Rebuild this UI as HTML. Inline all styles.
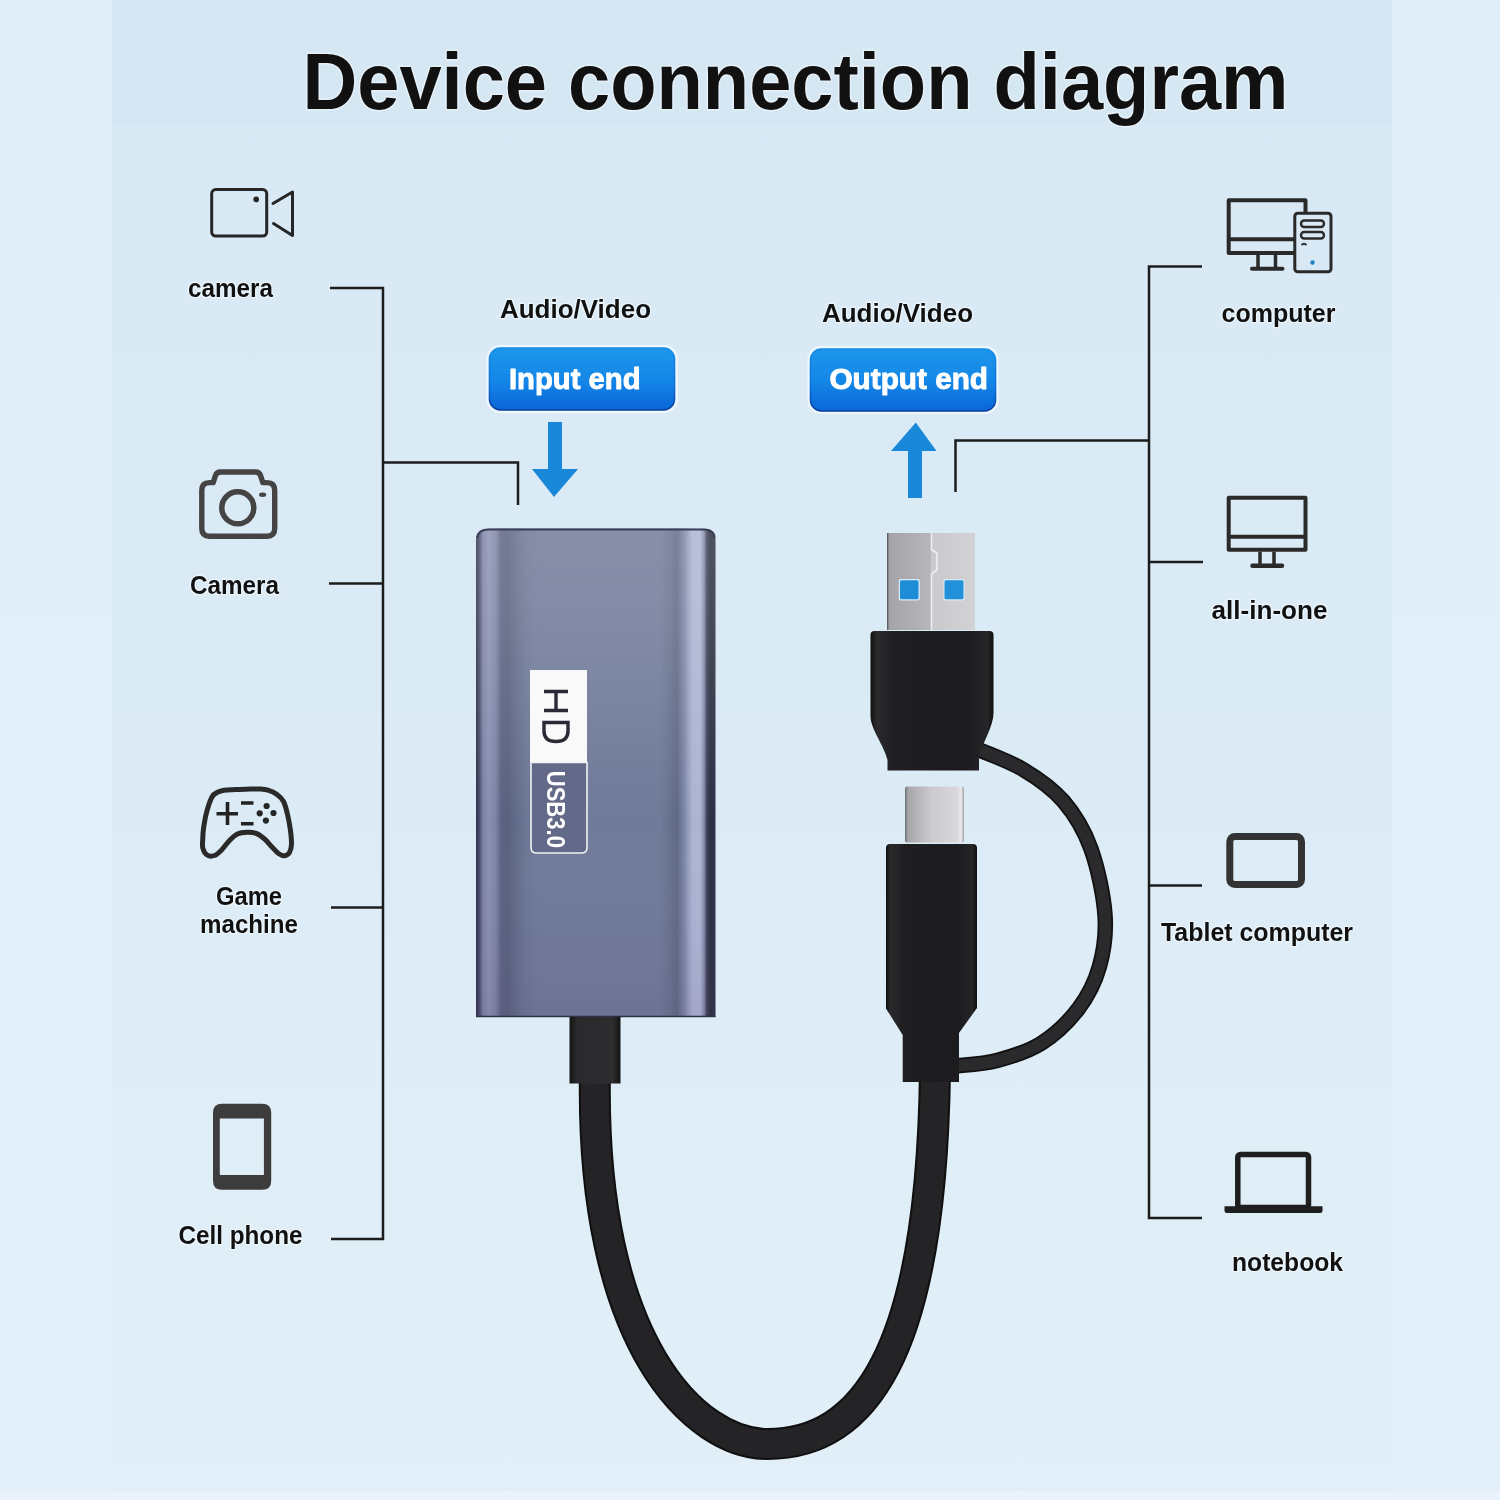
<!DOCTYPE html>
<html><head><meta charset="utf-8">
<style>
html,body{margin:0;padding:0;}
body{width:1500px;height:1500px;overflow:hidden;background:#d8e9f5;font-family:"Liberation Sans",sans-serif;}
svg{position:absolute;left:0;top:0;display:block;will-change:transform;}
</style></head>
<body>
<svg width="1500" height="1500" viewBox="0 0 1500 1500">
<defs>
  <linearGradient id="btn" x1="0" y1="0" x2="0" y2="1">
    <stop offset="0" stop-color="#1c95ea"/>
    <stop offset="0.5" stop-color="#1488e8"/>
    <stop offset="1" stop-color="#0b66d8"/>
  </linearGradient>
  <linearGradient id="btnS" x1="0" y1="0" x2="0" y2="1">
    <stop offset="0" stop-color="#1a8ee6"/>
    <stop offset="0.6" stop-color="#1070d8"/>
    <stop offset="1" stop-color="#0a3f9e"/>
  </linearGradient>
  <linearGradient id="body" x1="0" y1="0" x2="1" y2="0">
    <stop offset="0" stop-color="#4f5572"/>
    <stop offset="0.08" stop-color="#6a7193"/>
    <stop offset="0.2" stop-color="#7d84a7"/>
    <stop offset="0.8" stop-color="#7c83a5"/>
    <stop offset="0.93" stop-color="#666d8e"/>
    <stop offset="1" stop-color="#4c5270"/>
  </linearGradient>
  <linearGradient id="usba" x1="0" y1="0" x2="1" y2="0">
    <stop offset="0" stop-color="#9c9ca2"/>
    <stop offset="0.5" stop-color="#b4b4b9"/>
    <stop offset="0.51" stop-color="#c6c6ca"/>
    <stop offset="1" stop-color="#bdbdc2"/>
  </linearGradient>
  <linearGradient id="usbc" x1="0" y1="0" x2="1" y2="0">
    <stop offset="0" stop-color="#6c6c70"/>
    <stop offset="0.05" stop-color="#a6a6aa"/>
    <stop offset="0.45" stop-color="#cbcbce"/>
    <stop offset="0.88" stop-color="#d8d8db"/>
    <stop offset="0.95" stop-color="#ececee"/>
    <stop offset="1" stop-color="#a0a0a4"/>
  </linearGradient>
</defs>
<!-- background panels -->
<linearGradient id="bgc" gradientUnits="userSpaceOnUse" x1="0" y1="125" x2="0" y2="1500">
  <stop offset="0" stop-color="#d8e9f5"/>
  <stop offset="0.42" stop-color="#dbebf6"/>
  <stop offset="0.85" stop-color="#e0eef7"/>
  <stop offset="1" stop-color="#e2eff8"/>
</linearGradient>
<linearGradient id="bgs" x1="0" y1="0" x2="0" y2="1">
  <stop offset="0" stop-color="#dfeef8"/>
  <stop offset="1" stop-color="#e3f0f9"/>
</linearGradient>
<rect x="0" y="0" width="1500" height="1500" fill="url(#bgs)"/>
<rect x="112" y="125" width="1280" height="1375" fill="url(#bgc)"/>
<rect x="112" y="0" width="1280" height="125" fill="#d5e7f3"/>
<rect x="0" y="1491" width="1500" height="9" fill="#eaf2fb"/>

<!-- title -->
<text x="302.5" y="109" font-family="Liberation Sans" font-weight="bold" font-size="79" fill="#111" stroke="#f2f9fd" stroke-opacity="0.6" stroke-width="3" paint-order="stroke" stroke-linejoin="round" textLength="986" lengthAdjust="spacingAndGlyphs">Device connection diagram</text>

<!-- connector lines -->
<g stroke="#1c1c1c" stroke-width="2.5" fill="none">
  <polyline points="330,288 383,288 383,1239 331,1239"/>
  <line x1="329" y1="583.5" x2="383" y2="583.5"/>
  <line x1="331" y1="907.5" x2="383" y2="907.5"/>
  <polyline points="383,462.5 518,462.5 518,505"/>
  <polyline points="1202,266.5 1149,266.5 1149,1218 1202,1218"/>
  <polyline points="955.5,492 955.5,440.5 1149,440.5"/>
  <line x1="1149" y1="562" x2="1203" y2="562"/>
  <line x1="1149" y1="885.5" x2="1202" y2="885.5"/>
</g>


<!-- LEFT ICONS -->
<g fill="none" stroke="#262626" stroke-linecap="round" stroke-linejoin="round">
  <!-- video camera -->
  <rect x="211.7" y="189.6" width="55" height="46.4" rx="4" stroke-width="3"/>
  <path d="M273,203.5 L292.5,192 L292.5,235.5 L273.5,223.5" stroke-width="3"/>
  <!-- photo camera -->
  <path d="M213.2,482.6 L215.3,476 Q216.5,472 220.5,472 L255.5,472 Q259.5,472 260.7,476 L262.8,482.6 L267,482.6 Q274.7,482.6 274.7,490.3 L274.7,528.6 Q274.7,536.3 267,536.3 L209.5,536.3 Q201.8,536.3 201.8,528.6 L201.8,490.3 Q201.8,482.6 209.5,482.6 Z" stroke="#444" stroke-width="5.4"/>
  <circle cx="237.8" cy="507.8" r="16" stroke="#444" stroke-width="5.5"/>
  <!-- gamepad -->
  <path d="M212.0,797.0 C213.9,793.5 215.5,793.4 217.5,792.3 C219.5,791.2 220.9,790.7 224.0,790.2 C227.1,789.8 231.7,789.8 236.0,789.6 C240.3,789.4 246.0,789.1 250.0,789.0 C254.0,788.9 257.0,788.8 260.0,789.0 C263.0,789.2 265.2,789.3 268.0,790.2 C270.8,791.1 274.4,792.6 277.0,794.5 C279.6,796.4 281.8,798.3 283.5,801.5 C285.2,804.7 286.2,809.0 287.3,813.5 C288.4,818.0 289.5,823.6 290.2,828.7 C290.9,833.8 291.6,840.0 291.5,844.0 C291.4,848.0 290.7,850.5 289.5,852.5 C288.3,854.5 286.3,855.6 284.5,855.8 C282.7,856.0 280.7,855.0 278.5,853.5 C276.3,852.0 273.9,849.0 271.5,846.5 C269.1,844.0 266.7,840.7 264.0,838.5 C261.3,836.3 258.4,834.2 255.5,833.2 C252.6,832.2 249.7,832.2 246.7,832.3 C243.7,832.4 240.4,832.6 237.5,834.0 C234.6,835.4 232.1,837.9 229.5,840.5 C226.9,843.1 224.5,847.0 222.0,849.5 C219.5,852.0 217.0,854.6 214.5,855.5 C212.0,856.4 208.9,856.2 207.0,855.0 C205.1,853.8 203.5,850.8 202.8,848.0 C202.1,845.2 202.7,841.2 202.8,838.0 C202.9,834.8 202.9,832.8 203.5,828.7 C204.1,824.6 204.9,818.6 206.3,813.3 C207.7,808.0 210.1,800.5 212.0,797.0 Z" stroke="#2a2a2a" stroke-width="5"/>
  <path d="M216.5,813.7 H238 M227.5,802 V825 M241,803 H253.5 M241,823.7 H253.5" stroke="#222" stroke-width="3.6" stroke-linecap="butt"/>
</g>
<g fill="#262626">
  <circle cx="256.2" cy="199.4" r="2.8"/>
  <ellipse cx="262.6" cy="494.8" rx="3.6" ry="2.2" fill="#444"/>
  <circle cx="266.6" cy="806" r="3.1"/>
  <circle cx="259.7" cy="813.3" r="3.1"/>
  <circle cx="273.5" cy="813" r="3.1"/>
  <circle cx="265.9" cy="820.6" r="3.1"/>
  <!-- phone -->
  <path fill-rule="evenodd" fill="#3c3c3c" d="M222,1103.8 H262.2 Q271.2,1103.8 271.2,1112.8 V1180.7 Q271.2,1189.7 262.2,1189.7 H222 Q213,1189.7 213,1180.7 V1112.8 Q213,1103.8 222,1103.8 Z M219.8,1118.4 V1175.1 H263.9 V1118.4 Z"/>
</g>

<!-- RIGHT ICONS -->
<g fill="none" stroke="#2a2a2a" stroke-linejoin="round">
  <!-- computer -->
  <rect x="1228.7" y="200.3" width="76.8" height="52.7" stroke-width="4"/>
  <line x1="1228.7" y1="239.2" x2="1300" y2="239.2" stroke-width="4"/>
  <path d="M1258,255 V267 M1275.5,255 V267" stroke-width="3.5"/>
  <line x1="1252" y1="268.8" x2="1282.5" y2="268.8" stroke-width="4" stroke-linecap="round"/>
  <rect x="1294.8" y="213.2" width="36.2" height="58.6" rx="3" stroke-width="3" fill="#d8e9f5"/>
  <rect x="1301" y="220.5" width="23" height="6.5" rx="3.2" stroke-width="2.4"/>
  <rect x="1301" y="232" width="23" height="6.5" rx="3.2" stroke-width="2.4"/>
  <path d="M1301.5,245 Q1304,242.5 1306.5,245" stroke-width="1.8"/>
  <!-- all-in-one -->
  <rect x="1228.7" y="497.8" width="76.8" height="51.9" stroke-width="4"/>
  <line x1="1228.7" y1="536.7" x2="1305.5" y2="536.7" stroke-width="4"/>
  <path d="M1260,551.7 V564 M1274,551.7 V564" stroke-width="3.5"/>
  <line x1="1252.5" y1="565.8" x2="1282" y2="565.8" stroke-width="4.5" stroke-linecap="round"/>
  <!-- tablet -->
  <rect x="1229.8" y="836.5" width="71.7" height="48" rx="5" stroke-width="7" stroke="#333"/>
  <!-- laptop -->
  <rect x="1237.8" y="1154.5" width="70.7" height="53" rx="2.5" stroke-width="5.5" stroke="#1e1e1e"/>
</g>
<path d="M1224.5,1206.3 H1322.5 V1210.5 Q1322.5,1213 1320,1213 H1227 Q1224.5,1213 1224.5,1210.5 Z" fill="#1e1e1e"/>
<circle cx="1312.5" cy="262.5" r="2.2" fill="#1d7fc4"/>


<!-- DEVICE + CABLES -->
<defs>
  <linearGradient id="face" gradientUnits="userSpaceOnUse" x1="476" y1="0" x2="715.5" y2="0">
    <stop offset="0.0000" stop-color="#2e3046"/>
    <stop offset="0.0125" stop-color="#444766"/>
    <stop offset="0.0292" stop-color="#7c82a5"/>
    <stop offset="0.0543" stop-color="#8a90b2"/>
    <stop offset="0.0835" stop-color="#7c82a5"/>
    <stop offset="0.1044" stop-color="#5c6382"/>
    <stop offset="0.1336" stop-color="#59617f"/>
    <stop offset="0.1670" stop-color="#626c8a"/>
    <stop offset="0.2088" stop-color="#6c7695"/>
    <stop offset="0.2672" stop-color="#707a99"/>
    <stop offset="0.7683" stop-color="#707a99"/>
    <stop offset="0.8100" stop-color="#68728f"/>
    <stop offset="0.8392" stop-color="#5f6985"/>
    <stop offset="0.8685" stop-color="#7c85a6"/>
    <stop offset="0.9019" stop-color="#aab2d1"/>
    <stop offset="0.9353" stop-color="#aeb6d4"/>
    <stop offset="0.9520" stop-color="#848cab"/>
    <stop offset="0.9645" stop-color="#3a3e54"/>
    <stop offset="0.9812" stop-color="#2a2e40"/>
    <stop offset="1.0000" stop-color="#30344a"/>
  </linearGradient>
  <linearGradient id="faceV" gradientUnits="userSpaceOnUse" x1="0" y1="528" x2="0" y2="1017">
    <stop offset="0" stop-color="#ffffff" stop-opacity="0.16"/>
    <stop offset="0.15" stop-color="#ffffff" stop-opacity="0.14"/>
    <stop offset="0.6" stop-color="#ffffff" stop-opacity="0.0"/>
    <stop offset="0.82" stop-color="#7a5a90" stop-opacity="0.04"/>
    <stop offset="1" stop-color="#5a3a70" stop-opacity="0.12"/>
  </linearGradient>
  <linearGradient id="bootG" x1="0" y1="0" x2="1" y2="0">
    <stop offset="0" stop-color="#141414"/>
    <stop offset="0.15" stop-color="#2a292b"/>
    <stop offset="0.85" stop-color="#2d2c2e"/>
    <stop offset="1" stop-color="#141414"/>
  </linearGradient>
  <linearGradient id="housG" x1="0" y1="0" x2="1" y2="0">
    <stop offset="0" stop-color="#0e0e0f"/>
    <stop offset="0.05" stop-color="#2a292b"/>
    <stop offset="0.2" stop-color="#1e1d1f"/>
    <stop offset="0.8" stop-color="#1c1b1d"/>
    <stop offset="0.95" stop-color="#262527"/>
    <stop offset="1" stop-color="#0e0e0f"/>
  </linearGradient>
  <linearGradient id="usbaL" x1="0" y1="0" x2="1" y2="0">
    <stop offset="0" stop-color="#4a4a4e"/>
    <stop offset="0.05" stop-color="#a4a4a8"/>
    <stop offset="1" stop-color="#b7b7bb"/>
  </linearGradient>
  <linearGradient id="usbaR" x1="0" y1="0" x2="1" y2="0">
    <stop offset="0" stop-color="#cacacd"/>
    <stop offset="1" stop-color="#d2d2d5"/>
  </linearGradient>
</defs>

<!-- main U cable -->
<path d="M595,1070 C589.3,1347.7 697.6,1444.0 767.3,1444.0 C861.7,1444.0 931.6,1357.9 935,1070" fill="none" stroke="#0f0f10" stroke-width="32"/>
<path d="M595,1070 C589.3,1347.7 697.6,1444.0 767.3,1444.0 C861.7,1444.0 931.6,1357.9 935,1070" fill="none" stroke="#242426" stroke-width="28"/>
<!-- loop cable -->
<path d="M972.0,747.0 C980.5,750.7 1007.6,760.2 1022.9,769.3 C1038.2,778.4 1052.3,788.2 1063.6,801.4 C1074.9,814.6 1083.9,829.4 1090.8,848.3 C1097.7,867.2 1103.6,895.3 1105.0,915.0 C1106.4,934.7 1103.8,951.1 1099.4,966.7 C1095.0,982.3 1088.1,996.0 1078.4,1008.7 C1068.7,1021.5 1055.0,1034.6 1041.4,1043.2 C1027.8,1051.8 1011.4,1056.7 997.0,1060.5 C982.6,1064.3 962.0,1065.1 955.0,1066.0" fill="none" stroke="#111" stroke-width="15.5"/>
<path d="M972.0,747.0 C980.5,750.7 1007.6,760.2 1022.9,769.3 C1038.2,778.4 1052.3,788.2 1063.6,801.4 C1074.9,814.6 1083.9,829.4 1090.8,848.3 C1097.7,867.2 1103.6,895.3 1105.0,915.0 C1106.4,934.7 1103.8,951.1 1099.4,966.7 C1095.0,982.3 1088.1,996.0 1078.4,1008.7 C1068.7,1021.5 1055.0,1034.6 1041.4,1043.2 C1027.8,1051.8 1011.4,1056.7 997.0,1060.5 C982.6,1064.3 962.0,1065.1 955.0,1066.0" fill="none" stroke="#2a292b" stroke-width="12"/>

<!-- device body -->
<path d="M476,1017 V541 Q476,528.5 489,528.5 H703 Q715.5,528.5 715.5,541 V1017 Z" fill="url(#face)"/>
<path d="M476,1017 V541 Q476,528.5 489,528.5 H703 Q715.5,528.5 715.5,541 V1017 Z" fill="url(#faceV)"/>
<path d="M477,538 Q478,529.5 489,529.5 H703 Q714.5,529.5 714.5,538" fill="none" stroke="#3c3f58" stroke-width="2"/>
<line x1="476" y1="1016.5" x2="715.5" y2="1016.5" stroke="#2f3145" stroke-width="1.5"/>
<!-- label -->
<rect x="530" y="670" width="57" height="92" fill="#f8f9f8"/>
<g fill="none" stroke="#2a2a36" stroke-width="3.4">
  <path d="M544,691.5 H568 M544,710.5 H568 M556,691.5 V710.5"/>
  <path d="M544,722.5 H568 V731 Q568,741.5 556,741.5 Q544,741.5 544,731 Z"/>
</g>
<path d="M531,762.5 H587 V847.5 Q587,853 581.5,853 H536.5 Q531,853 531,847.5 Z" fill="#636a89" stroke="#f0f2f7" stroke-width="1.6"/>
<text transform="translate(547.3,770.7) rotate(90)" font-family="Liberation Sans" font-weight="bold" font-size="26.5" fill="#fff" textLength="77.3" lengthAdjust="spacingAndGlyphs">USB3.0</text>
<!-- boot left -->
<rect x="569.5" y="1017" width="51" height="66.5" fill="url(#bootG)"/>

<!-- USB-A -->
<rect x="887" y="533" width="44.5" height="97" fill="url(#usbaL)"/>
<rect x="931.5" y="533" width="43.5" height="97" fill="url(#usbaR)"/>
<path d="M931.5,533 V549.5 L937,553 V570 L931.5,574 V630" fill="none" stroke="#eeeef0" stroke-width="1.6"/>
<rect x="898.8" y="579" width="21" height="21.5" rx="2" fill="#d8ecfa"/>
<rect x="943.5" y="579" width="21" height="21.5" rx="2" fill="#d8ecfa"/>
<rect x="900" y="580.2" width="18.5" height="19" rx="1.5" fill="#1e8cd6"/>
<rect x="944.5" y="580.2" width="19" height="19" rx="1.5" fill="#2291da"/>
<!-- USB-A housing -->
<path d="M870.5,635 Q870.5,631 874.5,631 H989.5 Q993.5,631 993.5,635 V713 C993.5,726 983,742 979,756 V770.5 H887.5 V760 C884,745 870.5,729 870.5,716 Z" fill="url(#housG)"/>
<!-- USB-C metal -->
<rect x="905" y="786.6" width="59" height="56" rx="2" fill="url(#usbc)"/>
<!-- USB-C housing -->
<path d="M886,848 Q886,844 890,844 H973 Q977,844 977,848 V1008 L959,1033 V1082 H902.7 V1035 L886,1008.5 Z" fill="url(#housG)"/>

<!-- labels -->
<g font-family="Liberation Sans" font-weight="bold" fill="#111" font-size="25" stroke="#f2f9fd" stroke-opacity="0.7" stroke-width="2.6" paint-order="stroke" stroke-linejoin="round">
  <text x="188" y="296.5" textLength="85" lengthAdjust="spacingAndGlyphs">camera</text>
  <text x="190" y="593.5" textLength="89" lengthAdjust="spacingAndGlyphs">Camera</text>
  <text x="216" y="904.5" textLength="66" lengthAdjust="spacingAndGlyphs">Game</text>
  <text x="200" y="932.5" textLength="98" lengthAdjust="spacingAndGlyphs">machine</text>
  <text x="178.5" y="1244" textLength="124" lengthAdjust="spacingAndGlyphs">Cell phone</text>
  <text x="500" y="317.5" textLength="151" lengthAdjust="spacingAndGlyphs">Audio/Video</text>
  <text x="822" y="322" textLength="151" lengthAdjust="spacingAndGlyphs">Audio/Video</text>
  <text x="1221.5" y="321.5" textLength="114" lengthAdjust="spacingAndGlyphs">computer</text>
  <text x="1211.5" y="619" textLength="116" lengthAdjust="spacingAndGlyphs">all-in-one</text>
  <text x="1161" y="941" textLength="192" lengthAdjust="spacingAndGlyphs">Tablet computer</text>
  <text x="1232" y="1271" textLength="111" lengthAdjust="spacingAndGlyphs">notebook</text>
</g>

<!-- buttons -->
<rect x="487.5" y="346" width="189" height="66" rx="12.5" fill="none" stroke="#eef8ff" stroke-width="2.2"/>
<rect x="489.5" y="348" width="185" height="62" rx="11" fill="url(#btn)" stroke="url(#btnS)" stroke-width="1.6"/>
<rect x="808.5" y="347" width="189" height="66" rx="12.5" fill="none" stroke="#eef8ff" stroke-width="2.2"/>
<rect x="810.5" y="349" width="185" height="62" rx="11" fill="url(#btn)" stroke="url(#btnS)" stroke-width="1.6"/>
<g font-family="Liberation Sans" font-weight="bold" fill="#fff" font-size="29" stroke="#fff" stroke-width="0.9" stroke-linejoin="round">
  <text x="509" y="388.5" textLength="131.5" lengthAdjust="spacingAndGlyphs">Input end</text>
  <text x="829.5" y="389" textLength="158.5" lengthAdjust="spacingAndGlyphs">Output end</text>
</g>

<!-- arrows -->
<g fill="#1a88d9">
  <path d="M548,422 H562 V469 H578 L554,497 L532,469 H548 Z"/>
  <path d="M908,498 H922 V451 H936.5 L915.8,422.5 L891,451 H908 Z"/>
</g>
</svg>
</body></html>
